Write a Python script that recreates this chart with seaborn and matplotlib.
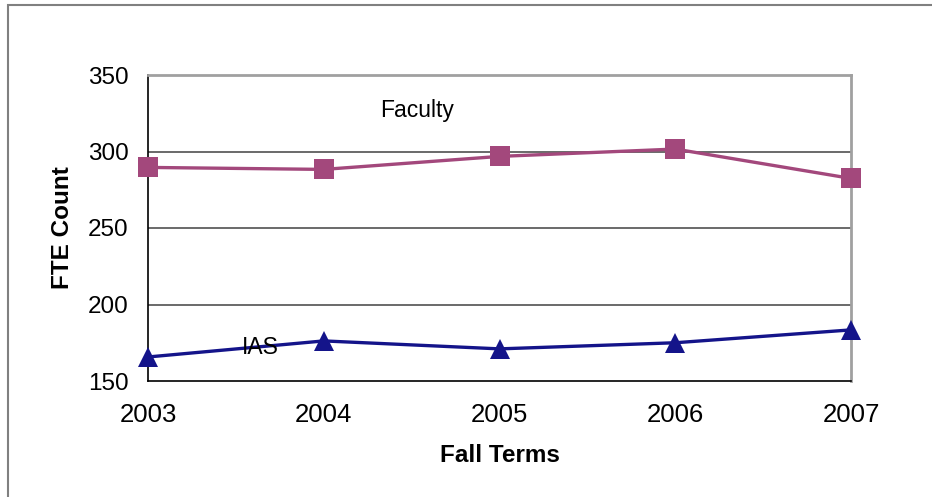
import matplotlib
matplotlib.use("Agg")
import matplotlib.pyplot as plt
import seaborn as sns
import pandas as pd
from matplotlib.patches import Rectangle

years = [2003, 2004, 2005, 2006, 2007]
faculty = [289.6, 288.3, 296.8, 301.6, 282.4]
ias = [165.7, 176.2, 171.0, 175.0, 183.4]

sns.set_style("white")
plt.rcParams['font.family'] = ['Liberation Sans', 'DejaVu Sans']
plt.rcParams['text.color'] = 'black'
plt.rcParams['axes.labelcolor'] = 'black'
plt.rcParams['xtick.color'] = 'black'
plt.rcParams['ytick.color'] = 'black'

fig = plt.figure(figsize=(9.32, 4.97), dpi=100)
ax = fig.add_axes([148 / 932, 1 - 381 / 497, (851 - 148) / 932, (381 - 75) / 497])

df = pd.DataFrame({"Year": years, "Faculty": faculty, "IAS": ias})

sns.lineplot(data=df, x="Year", y="Faculty", ax=ax, color="#A3487C", linewidth=2.4,
             marker="s", markersize=14, markeredgewidth=0, clip_on=False, zorder=4)
sns.lineplot(data=df, x="Year", y="IAS", ax=ax, color="#14148A", linewidth=2.4,
             marker="^", markersize=15, markeredgewidth=0, clip_on=False, zorder=4)

ax.set_xlim(2003, 2007)
ax.set_ylim(150, 350)
ax.set_xticks(years)
ax.set_xticklabels([str(y) for y in years])
ax.set_yticks([150, 200, 250, 300, 350])

for v in [200, 250, 300]:
    ax.axhline(v, color="#505050", linewidth=1.2, zorder=1)

for s in ["top", "right"]:
    ax.spines[s].set_color("#A0A0A0")
    ax.spines[s].set_linewidth(2)
for s in ["left", "bottom"]:
    ax.spines[s].set_color("black")
    ax.spines[s].set_linewidth(1.2)

ax.tick_params(axis="both", direction="out", length=6, width=1, color="black")
ax.tick_params(axis="y", labelsize=17.5, pad=8)
ax.tick_params(axis="x", labelsize=18.5, pad=10)

ax.set_xlabel("Fall Terms", fontsize=17.5, fontweight="bold", labelpad=12)
ax.set_ylabel("FTE Count", fontsize=17.5, fontweight="bold", labelpad=10)

ax.text(2004.53, 327, "Faculty", fontsize=16.5, ha="center", va="center")
ax.text(2003.64, 172, "IAS", fontsize=16.5, ha="center", va="center", zorder=5)

fig.patches.append(Rectangle((8 / 932, -0.05), 1.1, 1 - 5 / 497 + 0.05,
                             transform=fig.transFigure, fill=False,
                             edgecolor="#808080", linewidth=1.5))

fig.savefig("out.png", dpi=100)
